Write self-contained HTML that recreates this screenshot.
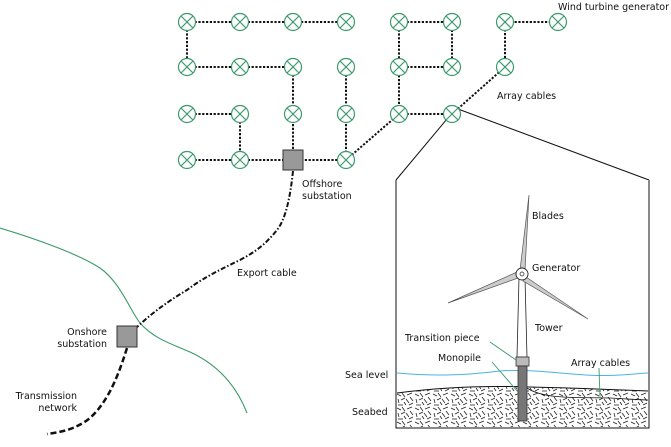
<!DOCTYPE html>
<html><head><meta charset="utf-8"><style>
html,body{margin:0;padding:0;background:#fff;}
svg text{font-family:"DejaVu Sans","Liberation Sans",sans-serif;font-size:9.5px;fill:#111;}
</style></head><body>
<svg width="671" height="442" viewBox="0 0 671 442" xmlns="http://www.w3.org/2000/svg">
<defs>
<pattern id="hatch" width="18" height="14" patternUnits="userSpaceOnUse">
<g stroke="#222" stroke-width="0.8">
<line x1="1" y1="2" x2="5" y2="4"/><line x1="6" y1="1" x2="9" y2="5"/><line x1="11" y1="3" x2="16" y2="1"/>
<line x1="2" y1="7" x2="3" y2="11"/><line x1="5" y1="8" x2="9" y2="6"/><line x1="10" y1="7" x2="13" y2="11"/>
<line x1="14" y1="5" x2="17" y2="9"/><line x1="2" y1="13" x2="7" y2="13"/><line x1="8" y1="10" x2="10" y2="13"/>
<line x1="13" y1="13" x2="17" y2="11"/>
</g></pattern>
<g id="n"><circle r="8.5" fill="#fff" stroke="#3a9a6a" stroke-width="1.2"/><line x1="-6" y1="-6" x2="6" y2="6" stroke="#3a9a6a" stroke-width="1.2"/><line x1="6" y1="-6" x2="-6" y2="6" stroke="#3a9a6a" stroke-width="1.2"/></g>
</defs>
<path d="M0,228 C40,240 80,255 100,268 C120,282 130,310 140,323 C155,340 175,345 190,352 C225,368 240,395 247,413" fill="none" stroke="#3a9a6a" stroke-width="1.1"/>
<path d="M293,171 C290,200 285,220 277,230 C265,245 255,252 240,260 C215,272 200,280 187,290 C165,303 150,315 137,327" fill="none" stroke="#111" stroke-width="2" stroke-dasharray="5,2,1.5,2"/>
<path d="M127,348 C120,370 110,400 90,418 C75,430 60,432 47,434" fill="none" stroke="#111" stroke-width="2.5" stroke-dasharray="6,3"/>
<g stroke="#111" stroke-width="2" stroke-dasharray="2.2,1.6" fill="none">
<path d="M187,22 H346 M187,22 V67 M187,67 H293 M293,67 V160 M240,114 V160 M187,114 H240 M187,160 H346 M346,67 V160 M346,160 L399,114 M399,22 V114 M399,22 H452 V67 M399,67 H452 M399,114 H452 M452,114 L505,67 V22 H558"/>
</g>
<path d="M452,113 L396,180 M458,109 L649,180" stroke="#111" stroke-width="1" fill="none"/>
<g>
<use href="#n" x="187" y="22"/><use href="#n" x="240" y="22"/><use href="#n" x="293" y="22"/><use href="#n" x="346" y="22"/><use href="#n" x="399" y="22"/><use href="#n" x="452" y="22"/><use href="#n" x="505" y="22"/><use href="#n" x="558" y="22"/>
<use href="#n" x="187" y="67"/><use href="#n" x="240" y="67"/><use href="#n" x="293" y="67"/><use href="#n" x="346" y="67"/><use href="#n" x="399" y="67"/><use href="#n" x="452" y="67"/><use href="#n" x="505" y="67"/>
<use href="#n" x="187" y="114"/><use href="#n" x="240" y="114"/><use href="#n" x="293" y="114"/><use href="#n" x="346" y="114"/><use href="#n" x="399" y="114"/><use href="#n" x="452" y="114"/>
<use href="#n" x="187" y="160"/><use href="#n" x="240" y="160"/><use href="#n" x="346" y="160"/>
</g>
<rect x="283" y="150" width="20" height="20" fill="#999" stroke="#333" stroke-width="1"/>
<rect x="117" y="326" width="20" height="21" fill="#999" stroke="#333" stroke-width="1"/>
<path d="M396,180 V428 H649 V180" fill="#fff" stroke="#111" stroke-width="1"/>
<path d="M397,393 C450,386 500,386 530,387 C580,388 620,390 648,391 V427 H397 Z" fill="url(#hatch)" stroke="none"/>
<path d="M397,393 C450,386 500,386 530,387 C580,388 620,390 648,391" fill="none" stroke="#111" stroke-width="1"/>
<path d="M527,388 C545,400 580,397 610,398 C630,399 640,400 648,400" fill="none" stroke="#111" stroke-width="0.8"/>
<path d="M397,373 C430,376 460,376 500,371 C540,368 580,378 620,375 C635,374 645,373 648,373" fill="none" stroke="#4ab4e0" stroke-width="1"/>
<polygon points="519,278 525,278 527,357 517,357" fill="#fff" stroke="#222" stroke-width="0.8"/>
<polygon points="520,270 529,195 525,270" fill="#ccc" stroke="#555" stroke-width="0.7"/>
<polygon points="517,272 448,303 518,278" fill="#ccc" stroke="#555" stroke-width="0.7"/>
<polygon points="526,277 588,319 523,281" fill="#ccc" stroke="#555" stroke-width="0.7"/>
<circle cx="522" cy="274" r="6" fill="#fff" stroke="#222" stroke-width="0.9"/>
<circle cx="522" cy="274" r="2" fill="#fff" stroke="#222" stroke-width="0.7"/>
<rect x="516" y="357" width="13" height="9" fill="#bbb" stroke="#333" stroke-width="0.8"/>
<rect x="518" y="366" width="9" height="55" fill="#777" stroke="#333" stroke-width="0.8"/>
<path d="M490,342 L516,360 M492,362 L518,392 M599,368 L600,398" stroke="#3a9a6a" stroke-width="0.9"/>
<text x="558" y="10">Wind turbine generator</text>
<text x="497" y="99">Array cables</text>
<text x="302" y="187">Offshore</text>
<text x="302" y="199">substation</text>
<text x="237" y="276">Export cable</text>
<text x="107" y="335" text-anchor="end">Onshore</text>
<text x="107" y="347" text-anchor="end">substation</text>
<text x="77" y="399" text-anchor="end">Transmission</text>
<text x="77" y="411" text-anchor="end">network</text>
<text x="532" y="219">Blades</text>
<text x="532" y="271">Generator</text>
<text x="535" y="331">Tower</text>
<text x="405" y="341">Transition piece</text>
<text x="438" y="361">Monopile</text>
<text x="571" y="366">Array cables</text>
<text x="345" y="378">Sea level</text>
<text x="352" y="415">Seabed</text>
</svg>
</body></html>
